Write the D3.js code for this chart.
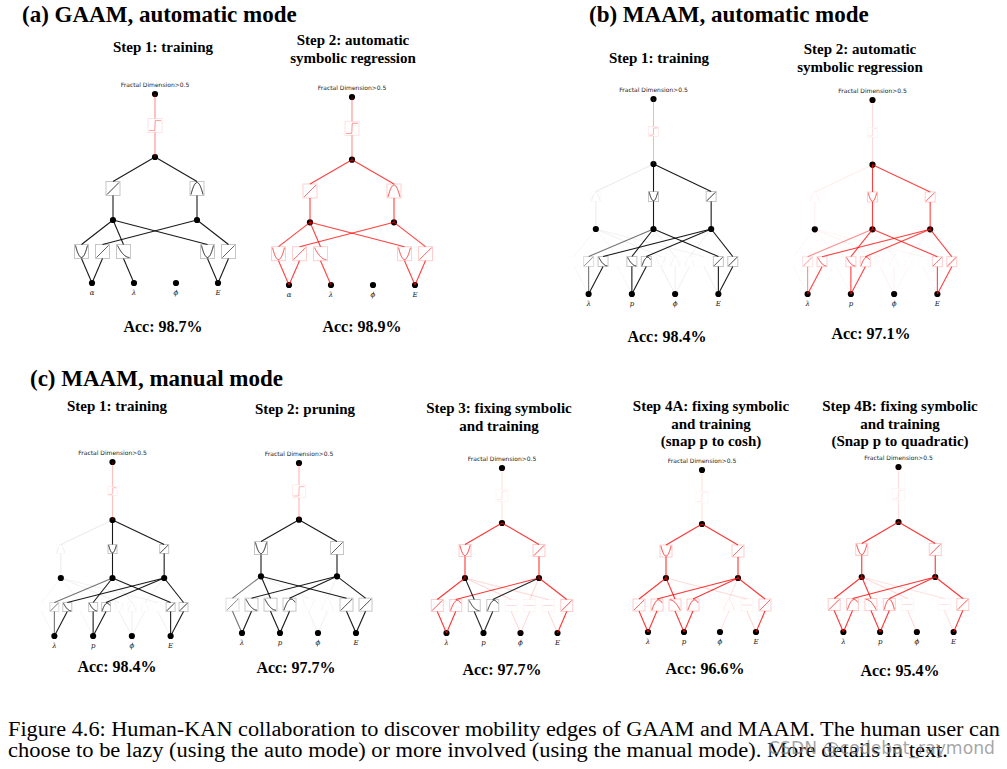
<!DOCTYPE html>
<html><head><meta charset="utf-8">
<script src="https://cdn.jsdelivr.net/npm/d3@7"></script>
<style>body{margin:0;background:#fff}svg{display:block}</style>
</head><body>
<svg id="chart" width="1007" height="769"></svg>
<script>
// ---------------- data ----------------
const sectionTitles = ["(a) GAAM, automatic mode", "(b) MAAM, automatic mode", "(c) MAAM, manual mode"];
const panelTitles = [
  ["Step 1: training"],
  ["Step 2: automatic", "symbolic regression"],
  ["Step 1: training"],
  ["Step 2: automatic", "symbolic regression"],
  ["Step 1: training"],
  ["Step 2: pruning"],
  ["Step 3: fixing symbolic", "and training"],
  ["Step 4A: fixing symbolic", "and training", "(snap p to cosh)"],
  ["Step 4B: fixing symbolic", "and training", "(Snap p to quadratic)"]
];
const accuracies = [98.7, 98.9, 98.4, 97.1, 98.4, 97.7, 97.7, 96.6, 95.4];
const gaamInputs = ["α", "λ", "ϕ", "E"];
const maamInputs = ["λ", "p", "ϕ", "E"];
const outputLabel = "Fractal Dimension>0.5";
const widthsGAAM = [4, 2, 1, 1];
const widthsMAAM = [4, 3, 1, 1];
const widthsPruned = [4, 2, 1, 1];
const captionLines = [
  "Figure 4.6: Human-KAN collaboration to discover mobility edges of GAAM and MAAM. The human user can",
  "choose to be lazy (using the auto mode) or more involved (using the manual mode). More details in text."
];
const watermark = "CSDN @codebat_raymond";

// activation edges: [layer, slot, shape, k = trained / r = symbolic, alpha]
const edgesA1 = [
  [0,0,"U","k",0.9],[0,1,"/","k",0.9],[0,2,"d","k",0.9],[0,6,"U","k",0.9],[0,7,"/","k",0.9],
  [1,0,"/","k",0.9],[1,1,"n","k",0.9],
  [2,0,"s","r",0.45]
];
const edgesA2 = [
  [0,0,"U","r",0.75],[0,1,"/","r",0.75],[0,2,"d","r",0.75],[0,6,"U","r",0.75],[0,7,"/","r",0.75],
  [1,0,"/","r",0.75],[1,1,"n","r",0.75],
  [2,0,"s","r",0.45]
];
const edgesB1 = [
  [0,0,"/","k",0.03],[0,1,"/","k",0.55],[0,2,"d","k",0.9],[0,3,"/","k",0.03],[0,4,"d","k",0.9],[0,5,"h","k",0.9],
  [0,6,"U","k",0.06],[0,7,"n","k",0.06],[0,8,"n","k",0.05],[0,9,"/","k",0.05],[0,10,"/","k",0.9],[0,11,"/","k",0.9],
  [1,0,"n","k",0.08],[1,1,"U","k",0.9],[1,2,"/","k",0.9],
  [2,0,"s","r",0.3]
];
const edgesB2 = [
  [0,0,"/","r",0.03],[0,1,"/","r",0.45],[0,2,"d","r",0.75],[0,3,"/","r",0.03],[0,4,"d","r",0.75],[0,5,"h","r",0.75],
  [0,6,"U","r",0.05],[0,7,"n","r",0.05],[0,8,"n","r",0.04],[0,9,"/","r",0.04],[0,10,"/","r",0.75],[0,11,"/","r",0.75],
  [1,0,"n","r",0.07],[1,1,"U","r",0.75],[1,2,"/","r",0.75],
  [2,0,"s","r",0.15]
];
const edgesC1 = [
  [0,0,"/","k",0.03],[0,1,"/","k",0.55],[0,2,"d","k",0.9],[0,3,"/","k",0.03],[0,4,"d","k",0.9],[0,5,"h","k",0.9],
  [0,6,"U","k",0.06],[0,7,"n","k",0.06],[0,8,"n","k",0.05],[0,9,"/","k",0.05],[0,10,"/","k",0.9],[0,11,"/","k",0.9],
  [1,0,"n","k",0.08],[1,1,"U","k",0.9],[1,2,"/","k",0.9],
  [2,0,"s","r",0.25]
];
const edgesC2 = [
  [0,0,"/","k",0.55],[0,1,"d","k",0.9],[0,2,"d","k",0.9],[0,3,"h","k",0.9],[0,4,"U","k",0.05],[0,5,"n","k",0.05],[0,6,"/","k",0.9],[0,7,"/","k",0.9],
  [1,0,"U","k",0.9],[1,1,"/","k",0.9],
  [2,0,"s","r",0.3]
];
const edgesC3 = [
  [0,0,"/","r",0.8],[0,1,"h","r",0.8],[0,2,"d","k",0.85],[0,3,"h","k",0.85],[0,4,"-","r",0.15],[0,5,"-","r",0.15],[0,6,"-","r",0.15],[0,7,"/","r",0.8],
  [1,0,"U","r",0.8],[1,1,"/","r",0.8],
  [2,0,"s","r",0.12]
];
const edgesC4A = [
  [0,0,"/","r",0.8],[0,1,"h","r",0.8],[0,2,"c","r",0.8],[0,3,"h","r",0.8],[0,5,"n","r",0.1],[0,6,"-","r",0.15],[0,7,"/","r",0.8],
  [1,0,"U","r",0.8],[1,1,"/","r",0.8],
  [2,0,"s","r",0.12]
];
const edgesC4B = [
  [0,0,"/","r",0.8],[0,1,"h","r",0.8],[0,2,"c","r",0.8],[0,3,"n","r",0.8],[0,4,"-","r",0.15],[0,6,"-","r",0.12],[0,7,"/","r",0.8],
  [1,0,"U","r",0.8],[1,1,"/","r",0.8],
  [2,0,"s","r",0.12]
];

const panelWidths = [widthsGAAM, widthsGAAM, widthsMAAM, widthsMAAM, widthsMAAM, widthsPruned, widthsPruned, widthsPruned, widthsPruned];
const panelInputs = [gaamInputs, gaamInputs, maamInputs, maamInputs, maamInputs, maamInputs, maamInputs, maamInputs, maamInputs];
const panelEdges = [edgesA1, edgesA2, edgesB1, edgesB2, edgesC1, edgesC2, edgesC3, edgesC4A, edgesC4B];

// ---------------- layout / style ----------------
const layout = [
  {left:71,  w:168, top:94,  bottom:283, box:14, tx:163, ty:52, ay:332, ax:163},
  {left:268, w:168, top:97,  bottom:285, box:14, tx:353, ty:45, ay:332, ax:362},
  {left:567, w:173, top:99,  bottom:294, box:10, tx:659, ty:63, ay:342, ax:667},
  {left:786, w:173, top:100, bottom:294, box:10, tx:860, ty:54, ay:339, ax:871},
  {left:35,  w:155, top:462, bottom:636, box:9,  tx:117, ty:411, ay:672, ax:117},
  {left:223, w:152, top:463, bottom:633, box:13, tx:305, ty:414, ay:673, ax:296},
  {left:428, w:148, top:468, bottom:633, box:12, tx:499, ty:413, ay:675, ax:502},
  {left:630, w:144, top:470, bottom:632, box:12, tx:711, ty:411, ay:674, ax:705},
  {left:825, w:147, top:467, bottom:632, box:12, tx:900, ty:411, ay:676, ax:900}
];
const sectionPos = [[22, 22], [589, 22], [30, 386]];
const colours = {k: "#000000", r: "#ff0000"};
const serif = "'Liberation Serif','Times New Roman',serif";

const shapeFns = {
  "U": x => 2 * x * x - 1,
  "n": x => 1 - 2 * x * x,
  "/": x => x,
  "d": x => -1 + 2 * ((1 - x) / 2) ** 2,
  "c": x => 1 - 2 * ((x + 1) / 2) ** 2,
  "h": x => 1 - 2 * ((x - 0.3) / 1.3) ** 2,
  "s": x => Math.tanh(40 * x) * 0.85,
  "-": x => 0
};

const svg = d3.select("#chart");
svg.append("rect").attr("width", 1007).attr("height", 769).attr("fill", "#fff");

// section titles
sectionTitles.forEach((t, i) => {
  svg.append("text").attr("x", sectionPos[i][0]).attr("y", sectionPos[i][1])
    .attr("font-family", serif).attr("font-weight", "bold").attr("font-size", 23)
    .text(t);
});

// panels
panelWidths.forEach((widths, p) => {
  const L = layout[p];
  const g = svg.append("g");
  const depth = widths.length;
  const y = d3.scaleLinear().domain([0, depth - 1]).range([L.bottom, L.top]);
  const x = d3.scaleLinear().domain([0, 1]).range([L.left, L.left + L.w]);
  const nodeX = (l, i) => x((i + 0.5) / widths[l]);
  const half = L.box / 2;

  // titles
  panelTitles[p].forEach((t, k) => {
    g.append("text").attr("x", L.tx).attr("y", L.ty + k * 17.5)
      .attr("text-anchor", "middle").attr("font-family", serif)
      .attr("font-weight", "bold").attr("font-size", 15).text(t);
  });
  g.append("text").attr("x", L.ax).attr("y", L.ay).attr("text-anchor", "middle")
    .attr("font-family", serif).attr("font-weight", "bold").attr("font-size", 16)
    .text(`Acc: ${accuracies[p].toFixed(1)}%`);

  // nodes
  widths.forEach((n, l) => {
    g.selectAll(null).data(d3.range(n)).join("circle")
      .attr("cx", i => nodeX(l, i)).attr("cy", y(l)).attr("r", 3.1).attr("fill", "#000");
  });

  // edges + activation boxes
  panelEdges[p].forEach(([l, id, shape, c, a]) => {
    const nNext = widths[l + 1];
    const N = widths[l] * nNext;
    const i = Math.floor(id / nNext), j = id % nNext;
    const bx = x((id + 0.5) / N);
    const by = (y(l) + y(l + 1)) / 2;
    const col = colours[c];
    g.append("line").attr("x1", nodeX(l, i)).attr("y1", y(l)).attr("x2", bx).attr("y2", by + half)
      .attr("stroke", col).attr("stroke-opacity", a).attr("stroke-width", 1.1);
    g.append("line").attr("x1", bx).attr("y1", by - half).attr("x2", nodeX(l + 1, j)).attr("y2", y(l + 1))
      .attr("stroke", col).attr("stroke-opacity", a).attr("stroke-width", 1.1);
    g.append("rect").attr("x", bx - half).attr("y", by - half).attr("width", L.box).attr("height", L.box)
      .attr("fill", "none").attr("stroke", col).attr("stroke-opacity", a * 0.25).attr("stroke-width", 1);
    const xs = d3.scaleLinear().domain([-1, 1]).range([bx - half * 0.85, bx + half * 0.85]);
    const ys = d3.scaleLinear().domain([-1, 1]).range([by + half * 0.85, by - half * 0.85]);
    const f = shapeFns[shape];
    const pts = d3.range(-1, 1.0001, 0.02).map(v => [xs(v), ys(f(v))]);
    g.append("path").attr("d", d3.line()(pts)).attr("fill", "none")
      .attr("stroke", col).attr("stroke-opacity", a).attr("stroke-width", 1);
  });

  // labels
  g.selectAll(null).data(panelInputs[p]).join("text")
    .attr("x", (d, i) => nodeX(0, i)).attr("y", L.bottom + 12)
    .attr("text-anchor", "middle").attr("font-family", "'DejaVu Serif',serif")
    .attr("font-style", "italic").attr("font-size", 7).attr("fill", "#111").text(d => d);
  g.append("text").attr("x", nodeX(depth - 1, 0)).attr("y", L.top - 7)
    .attr("text-anchor", "middle").attr("font-family", "'DejaVu Sans',sans-serif")
    .attr("font-size", 6).attr("fill", "#222").text(outputLabel);
});

// caption
captionLines.forEach((t, k) => {
  svg.append("text").attr("x", 8).attr("y", 736 + k * 21)
    .attr("font-family", serif).attr("font-size", 20)
    .attr("textLength", k === 0 ? 992 : 940).attr("lengthAdjust", "spacingAndGlyphs").text(t);
});
svg.append("text").attr("x", 768).attr("y", 754).attr("font-family", "'DejaVu Sans',sans-serif")
  .attr("font-size", 17).attr("fill", "#888").attr("fill-opacity", 0.75)
  .attr("textLength", 227).attr("lengthAdjust", "spacingAndGlyphs").text(watermark);
</script>
</body></html>
